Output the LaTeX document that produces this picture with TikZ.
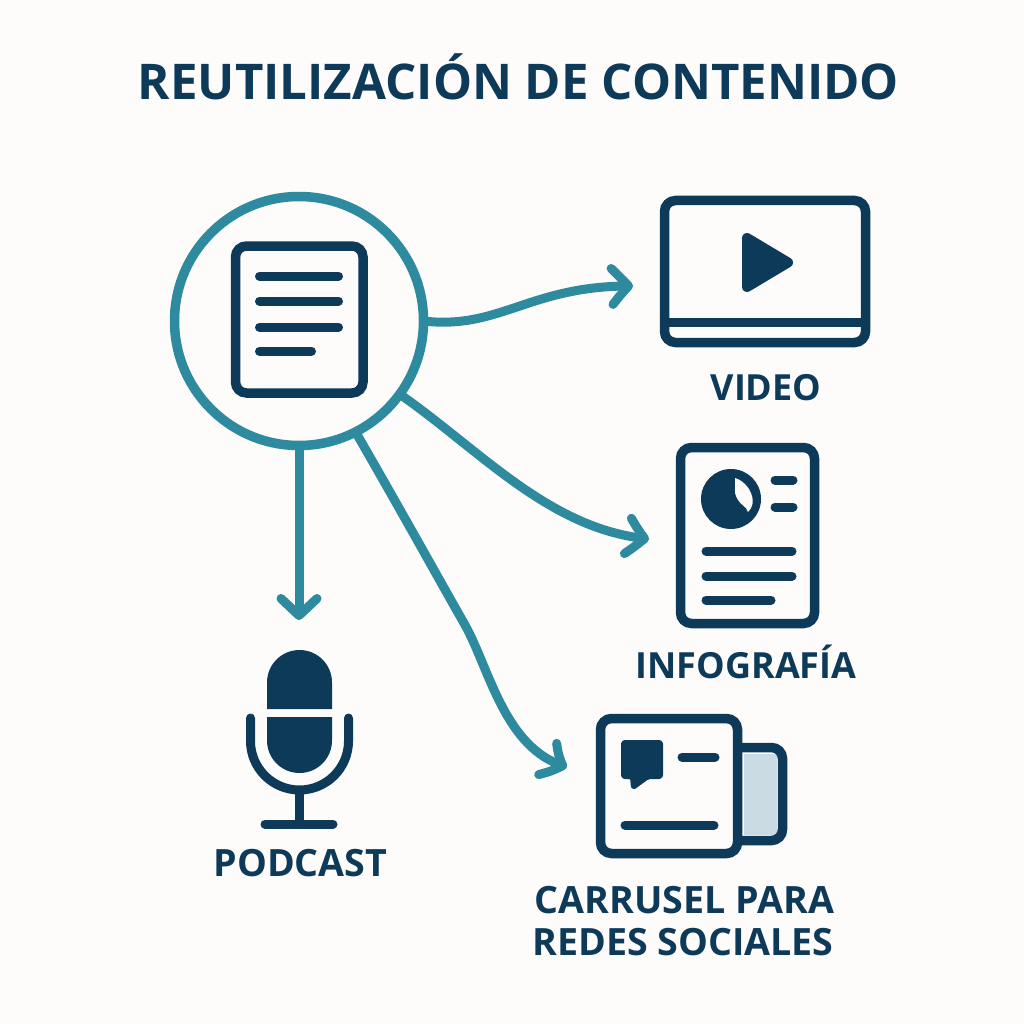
\documentclass[tikz,border=0pt]{standalone}
\usepackage{fontspec}
\setmainfont{Open Sans}[BoldFont={Open Sans Bold}]
\usetikzlibrary{arrows.meta,bending}
\definecolor{navy}{HTML}{0E3A5A}
\definecolor{teal2}{HTML}{2E8A9E}
\definecolor{paper}{HTML}{FDFCFA}
\definecolor{pale}{HTML}{CBDBE3}
\tikzset{
  frame/.style={draw=navy,line width=9.5pt,rounded corners=11pt},
  bar/.style={draw=navy,line width=9pt,line cap=round},
  solid navy/.style={fill=navy,draw=navy,line join=round},
  flow/.style={draw=teal2,line width=9pt,line cap=round,
    -{Straight Barb[length=17pt,width=36pt,round,bend]}},
  lab/.style={text=navy,anchor=base,font=\bfseries\fontsize{36}{36}\selectfont,inner sep=0pt,outer sep=0pt},
  lab2/.style={lab,font=\bfseries\fontsize{37.6}{38}\selectfont},
}
\begin{document}
\begin{tikzpicture}[x=1pt,y=-1pt]
\useasboundingbox (0,0) rectangle (1024,1024);
\fill[paper] (0,0) rectangle (1024,1024);
% title
\node[lab,font=\bfseries\fontsize{49.2}{49}\selectfont] (title) at (518.5,100) {REUTILIZACIÓN DE CONTENIDO};
% source
\node[circle,draw=teal2,line width=9.5pt,minimum size=249pt,inner sep=0pt,outer sep=0pt] (src) at (299,321) {};
\draw[frame] (235.5,246) rectangle (363,393);
\draw[bar] (259.5,276) -- (338.5,276);
\draw[bar] (259.5,301) -- (338.5,301);
\draw[bar] (259.5,327) -- (338.5,327);
\draw[bar] (259.5,351) -- (311.5,351);
% video
\draw[frame] (664.5,200.5) rectangle (865.5,342.5);
\draw[draw=navy,line width=9pt] (664.5,322) -- (865.5,322);
\draw[solid navy,line width=10pt] (747,238) -- (788,262.5) -- (747,287) -- cycle;
\node[lab] (lvideo) at (766,400) {VIDEO};
% infographic
\draw[frame] (680.5,447.5) rectangle (814.5,623.5);
\fill[navy] (731,499) circle (30);
\fill[paper] (735,478) .. controls (745,481) and (752,491) .. (752.7,500) .. controls (753,505) and (751,509) .. (748,512) .. controls (747,506) and (738,505) .. (735,493) -- cycle;
\draw[bar] (775,480) -- (793,480);
\draw[bar] (775,507) -- (793,507);
\draw[bar] (706,551) -- (792,551);
\draw[bar] (706,576) -- (792,576);
\draw[bar] (706,600) -- (771,600);
\node[lab] (linfo) at (746,678) {INFOGRAFÍA};
% carousel
\fill[pale] (744,754) rectangle (777,835);
\draw[frame] (737,747.5) -- (782.5,747.5) -- (782.5,840.5) -- (737,840.5);
\draw[frame,fill=paper] (600.5,718.5) rectangle (737.5,853.5);
\draw[solid navy,line width=4pt,rounded corners=2pt] (623,742) -- (661,742) -- (661,777) -- (648,777) -- (633,788) -- (632,777) -- (623,777) -- cycle;
\draw[bar] (682,757) -- (715,757);
\draw[bar] (625,825) -- (714,825);
\node[lab2] (lcar1) at (684.5,913) {CARRUSEL PARA};
\node[lab2] (lcar2) at (683,955) {REDES SOCIALES};
% microphone
\fill[navy] (267,709) -- (267,682.5) arc[start angle=180,end angle=0,radius=32.5pt] -- (332,709) -- cycle;
\fill[navy] (267,717) -- (267,740.5) arc[start angle=180,end angle=360,radius=32.5pt] -- (332,717) -- cycle;
\draw[bar] (250.5,718) -- (250.5,741) arc[start angle=180,end angle=360,radius=49pt] -- (348.5,718);
\draw[draw=navy,line width=9pt] (299.5,790) -- (299.5,824);
\draw[bar] (265,824) -- (333,824);
\node[lab2] (lpod) at (300.5,876) {PODCAST};
% connectors
\coordinate (tv) at (633,286);
\coordinate (ti) at (649,539);
\coordinate (tc) at (567,767);
\coordinate (tp) at (299,620);
\draw[flow] (src.0) .. controls (500,330) and (530,285) .. (tv);
\draw[flow] (src.-36) .. controls (480,450) and (550,530) .. (ti);
\draw[flow] (src.-63) .. controls (395,500) and (445,590) .. (465,625) .. controls (490,670) and (505,750) .. (tc);
\draw[flow] (src.-90) -- (tp);
\end{tikzpicture}
\end{document}
